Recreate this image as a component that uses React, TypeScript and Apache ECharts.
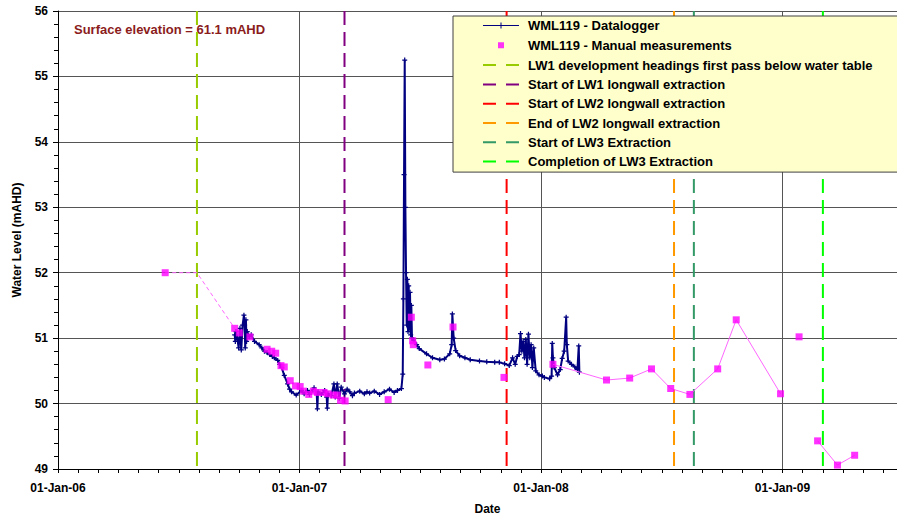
import React, { useEffect, useRef } from 'react';
import * as echarts from 'echarts';

// ---- data ----
const loggerReadings: [string, number][] = [
  ['2006-09-25', 51.05], ['2006-09-26', 50.95], ['2006-09-27', 51.1], ['2006-09-29', 51.0],
  ['2006-10-01', 50.85], ['2006-10-03', 51.15], ['2006-10-05', 50.82], ['2006-10-07', 51.2],
  ['2006-10-09', 51.35], ['2006-10-10', 51.2], ['2006-10-11', 50.85], ['2006-10-12', 51.28],
  ['2006-10-13', 50.95], ['2006-10-14', 51.1], ['2006-10-17', 51.02], ['2006-10-20', 51.05],
  ['2006-10-25', 50.95], ['2006-11-01', 50.9], ['2006-11-05', 50.85], ['2006-11-09', 50.8],
  ['2006-11-13', 50.78], ['2006-11-17', 50.75], ['2006-11-21', 50.72], ['2006-11-24', 50.7],
  ['2006-11-29', 50.66], ['2006-12-02', 50.6], ['2006-12-05', 50.55], ['2006-12-09', 50.43],
  ['2006-12-14', 50.3], ['2006-12-17', 50.22], ['2006-12-20', 50.18], ['2006-12-27', 50.13],
  ['2007-01-04', 50.2], ['2007-01-08', 50.15], ['2007-01-13', 50.2], ['2007-01-16', 50.14],
  ['2007-01-19', 50.18], ['2007-01-23', 50.24], ['2007-01-27', 50.15], ['2007-01-28', 49.92],
  ['2007-01-29', 50.18], ['2007-02-03', 50.14], ['2007-02-08', 50.2], ['2007-02-11', 50.1],
  ['2007-02-12', 49.93], ['2007-02-13', 50.15], ['2007-02-18', 50.12], ['2007-02-22', 50.3],
  ['2007-02-24', 50.1], ['2007-02-27', 50.3], ['2007-03-02', 50.08], ['2007-03-05', 50.25],
  ['2007-03-10', 50.15], ['2007-03-14', 50.22], ['2007-03-18', 50.18], ['2007-03-22', 50.12],
  ['2007-03-25', 50.16], ['2007-04-02', 50.19], ['2007-04-09', 50.15], ['2007-04-13', 50.18],
  ['2007-04-17', 50.16], ['2007-04-24', 50.19], ['2007-05-02', 50.14], ['2007-05-09', 50.18],
  ['2007-05-17', 50.22], ['2007-05-24', 50.17], ['2007-05-29', 50.2], ['2007-06-04', 50.23],
  ['2007-06-06', 50.45], ['2007-06-07', 51.6], ['2007-06-08', 53.5], ['2007-06-09', 55.25],
  ['2007-06-10', 53.0], ['2007-06-11', 52.0], ['2007-06-12', 51.2], ['2007-06-13', 51.9],
  ['2007-06-14', 51.1], ['2007-06-15', 51.8], ['2007-06-16', 51.15], ['2007-06-17', 51.7],
  ['2007-06-18', 51.05], ['2007-06-19', 51.5], ['2007-06-20', 51.0], ['2007-06-22', 50.97],
  ['2007-06-27', 50.9], ['2007-07-01', 50.84], ['2007-07-12', 50.76], ['2007-07-21', 50.7],
  ['2007-08-01', 50.67], ['2007-08-08', 50.68], ['2007-08-16', 50.76], ['2007-08-19', 50.9],
  ['2007-08-20', 51.37], ['2007-08-22', 51.0], ['2007-08-25', 50.81], ['2007-08-31', 50.73],
  ['2007-09-08', 50.7], ['2007-09-16', 50.67], ['2007-09-30', 50.65], ['2007-10-11', 50.64],
  ['2007-10-23', 50.63], ['2007-10-30', 50.63], ['2007-11-07', 50.61], ['2007-11-14', 50.58],
  ['2007-11-19', 50.7], ['2007-11-23', 50.6], ['2007-11-26', 50.72], ['2007-11-29', 50.75],
  ['2007-12-01', 51.07], ['2007-12-03', 50.8], ['2007-12-05', 50.95], ['2007-12-07', 50.7],
  ['2007-12-09', 50.98], ['2007-12-11', 50.6], ['2007-12-13', 51.06], ['2007-12-15', 50.7],
  ['2007-12-17', 50.9], ['2007-12-19', 50.55], ['2007-12-21', 50.85], ['2007-12-24', 50.5],
  ['2007-12-29', 50.44], ['2008-01-03', 50.42], ['2008-01-06', 50.4], ['2008-01-14', 50.38],
  ['2008-01-17', 50.42], ['2008-01-18', 50.92], ['2008-01-19', 50.7], ['2008-01-21', 50.55],
  ['2008-01-26', 50.44], ['2008-01-30', 50.52], ['2008-02-02', 50.69], ['2008-02-05', 50.8],
  ['2008-02-08', 51.32], ['2008-02-09', 50.9], ['2008-02-11', 50.65], ['2008-02-16', 50.6],
  ['2008-02-21', 50.56], ['2008-02-25', 50.52], ['2008-02-27', 50.88], ['2008-02-28', 50.48],
];

const manualReadings: [string, number][] = [
  ['2006-06-12', 52.0], ['2006-09-25', 51.15], ['2006-10-02', 51.08], ['2006-10-18', 51.02],
  ['2006-11-13', 50.83], ['2006-11-20', 50.8], ['2006-11-26', 50.77], ['2006-12-04', 50.58],
  ['2006-12-09', 50.56], ['2006-12-18', 50.35], ['2006-12-26', 50.27], ['2007-01-02', 50.26],
  ['2007-01-07', 50.19], ['2007-01-15', 50.14], ['2007-01-22', 50.19], ['2007-01-28', 50.17],
  ['2007-02-07', 50.17], ['2007-02-13', 50.15], ['2007-02-21', 50.13], ['2007-02-27', 50.13],
  ['2007-03-04', 50.05], ['2007-03-11', 50.04], ['2007-05-15', 50.06], ['2007-06-19', 51.32],
  ['2007-06-21', 50.96], ['2007-06-22', 50.9], ['2007-07-14', 50.59], ['2007-08-21', 51.17],
  ['2007-11-06', 50.4], ['2008-01-19', 50.6], ['2008-04-09', 50.36], ['2008-05-14', 50.39],
  ['2008-06-16', 50.53], ['2008-07-15', 50.23], ['2008-08-13', 50.14], ['2008-09-24', 50.53],
  ['2008-10-22', 51.28], ['2008-12-28', 50.15], ['2009-01-25', 51.02], ['2009-02-22', 49.43],
  ['2009-03-24', 49.06], ['2009-04-19', 49.21],
];

// manual points joined by a solid line from this date, broken after these dates
const manualLinkFrom = '2008-01-19';
const manualBreaksAfter = ['2008-12-28', '2009-01-25'];

// early dashed connector of the manual record
const manualDashedLink: [string, number][] = [
  ['2006-06-12', 52.0], ['2006-07-30', 52.0], ['2006-09-25', 51.15],
];

const eventNames = [
  'LW1 development headings first pass below water table',
  'Start of LW1 longwall extraction',
  'Start of LW2 longwall extraction',
  'End of LW2 longwall extraction',
  'Start of LW3 Extraction',
  'Completion of LW3 Extraction',
];
const eventDates = ['2006-07-30', '2007-03-10', '2007-11-10', '2008-07-20', '2008-08-19', '2009-03-02'];
const eventColors = ['#99CC00', '#800080', '#FF0000', '#FF9900', '#339966', '#00FF00'];

const loggerName = 'WML119 - Datalogger';
const manualName = 'WML119 - Manual measurements';
const surfaceNote = 'Surface elevation = 61.1 mAHD';

const xStartYear = 2006;
const xMaxDay = 1268;
const yMin = 49;
const yMax = 56;

// ---- helpers ----
const ORIGIN = Date.UTC(xStartYear, 0, 1);
const toDay = (d: string) => (Date.parse(d) - ORIGIN) / 86400000;
const MONTH = 365 / 12;

const FONT = '"Liberation Sans", Arial, sans-serif';

export default function App() {
  const ref = useRef<HTMLDivElement>(null);
  useEffect(() => {
    if (!ref.current) return;
    const chart = echarts.init(ref.current, undefined, { renderer: 'svg' });

    const loggerData = loggerReadings.map(([d, v]) => [toDay(d), v]);
    const manualData = manualReadings.map(([d, v]) => [toDay(d), v]);
    const linked: any[] = [];
    manualReadings.forEach(([d, v]) => {
      if (toDay(d) >= toDay(manualLinkFrom)) {
        linked.push([toDay(d), v]);
        if (manualBreaksAfter.includes(d)) linked.push([toDay(d) + 0.5, null]);
      }
    });
    const dashed = manualDashedLink.map(([d, v]) => [toDay(d), v]);

    const eventSeries = eventNames.map((name, i) => ({
      name,
      type: 'line',
      data: [[toDay(eventDates[i]), yMax], [toDay(eventDates[i]), yMin]],
      symbol: 'none',
      lineStyle: { color: eventColors[i], width: 2, type: [14, 7] },
      itemStyle: { color: eventColors[i] },
      z: 1,
    }));

    const dashIcon = 'path://M0,0H13V2H0Z M23,0H36V2H23Z';
    const loggerIcon = 'path://M0,2.5H36V3.5H0Z M17.5,0H18.5V6H17.5Z';
    const manualIcon = 'path://M0,0L0.01,0L0,0.01Z M36,14L35.99,14L36,13.99Z M15,4H21V10H15Z';

    chart.setOption({
      animation: false,
      textStyle: { fontFamily: FONT },
      grid: { left: 58, right: 0, top: 11, bottom: 48, containLabel: false, outerBoundsMode: 'none' },
      legend: {
        orient: 'vertical',
        left: 453,
        top: 16,
        padding: [3, 28, 4, 30],
        itemWidth: 36,
        itemHeight: 14,
        itemGap: 6.3,
        backgroundColor: '#FFFFCC',
        borderColor: '#404040',
        borderWidth: 1,
        selectedMode: false,
        itemStyle: { borderWidth: 0 },
        textStyle: { color: '#000', fontSize: 13, fontWeight: 'bold', fontFamily: FONT, padding: [0, 0, 0, 4] },
        data: [
          { name: loggerName, icon: loggerIcon },
          { name: manualName, icon: manualIcon },
          ...eventNames.map((n) => ({ name: n, icon: dashIcon })),
        ],
      },
      graphic: [
        {
          type: 'text',
          left: 74,
          top: 23,
          style: { text: surfaceNote, fill: '#8B1C1C', font: `bold 13px ${FONT}` },
        },
      ],
      xAxis: {
        type: 'value',
        min: 0,
        max: xMaxDay,
        interval: MONTH,
        name: 'Date',
        nameLocation: 'middle',
        nameGap: 34,
        nameTextStyle: { color: '#000', fontSize: 12, fontWeight: 'bold', padding: [0, 0, 0, 20] },
        axisLine: { lineStyle: { color: '#000', width: 1 } },
        axisTick: { show: true, length: 4, lineStyle: { color: '#000' } },
        axisLabel: {
          color: '#000',
          fontSize: 12,
          fontWeight: 'bold',
          margin: 13,
          showMaxLabel: true,
          formatter: (v: number) => {
            const k = Math.round(v / MONTH);
            if (Math.abs(v - k * MONTH) > 0.01 || k % 12 !== 0) return '';
            const yy = String((xStartYear + k / 12) % 100).padStart(2, '0');
            return `01-Jan-${yy}`;
          },
        },
        splitLine: {
          show: true,
          lineStyle: {
            color: ['#555', 'transparent', 'transparent', 'transparent', 'transparent', 'transparent',
              'transparent', 'transparent', 'transparent', 'transparent', 'transparent', 'transparent'],
            width: 1,
          },
        },
      },
      yAxis: {
        type: 'value',
        min: yMin,
        max: yMax,
        interval: 1,
        name: 'Water Level (mAHD)',
        nameLocation: 'middle',
        nameGap: 35,
        nameTextStyle: { color: '#000', fontSize: 12, fontWeight: 'bold' },
        axisLine: { show: true, lineStyle: { color: '#000', width: 1 } },
        axisTick: { show: true, length: 5, lineStyle: { color: '#000' } },
        minorTick: { show: true, splitNumber: 5, length: 4, lineStyle: { color: '#000' } },
        axisLabel: { color: '#000', fontSize: 12, fontWeight: 'bold', margin: 10 },
        splitLine: { show: true, lineStyle: { color: '#555', width: 1 } },
      },
      series: [
        ...eventSeries,
        {
          name: loggerName,
          type: 'line',
          data: loggerData,
          symbol: 'path://M-0.25,-1H0.25V-0.25H1V0.25H0.25V1H-0.25V0.25H-1V-0.25H-0.25Z',
          symbolSize: 5,
          showSymbol: true,
          lineStyle: { color: '#000080', width: 2 },
          itemStyle: { color: '#000080' },
          z: 2,
        },
        {
          name: 'manual-dashed',
          type: 'line',
          data: dashed,
          symbol: 'none',
          lineStyle: { color: '#FF66FF', width: 1, type: [4, 3] },
          z: 3,
        },
        {
          name: 'manual-linked',
          type: 'line',
          data: linked,
          symbol: 'none',
          connectNulls: false,
          lineStyle: { color: '#FF66FF', width: 1 },
          z: 3,
        },
        {
          name: manualName,
          type: 'scatter',
          data: manualData,
          symbol: 'rect',
          symbolSize: 7,
          itemStyle: { color: '#FF00FF' },
          z: 4,
        },
      ],
    });
    return () => chart.dispose();
  }, []);

  return (
    <div
      ref={ref}
      style={{ position: 'fixed', left: 0, top: 0, width: 897, height: 517, background: '#fff' }}
    />
  );
}
